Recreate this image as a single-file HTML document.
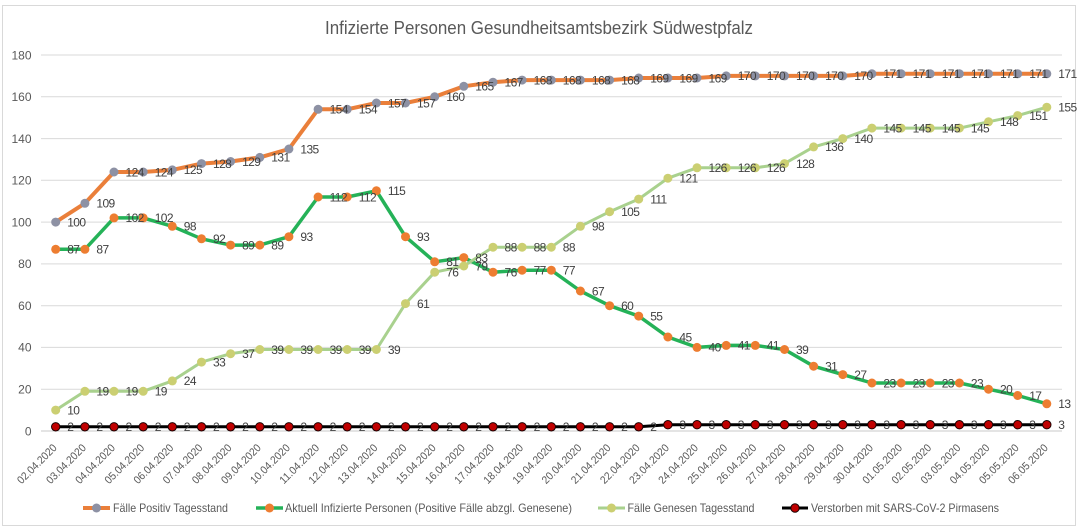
<!DOCTYPE html>
<html><head><meta charset="utf-8"><style>
html,body{margin:0;padding:0;background:#fff;}
svg{display:block;}
.ax{font-family:"Liberation Sans",sans-serif;font-size:12px;fill:#595959;}
.dl{font-family:"Liberation Sans",sans-serif;font-size:12px;fill:#404040;letter-spacing:-0.6px;}
.xl{font-family:"Liberation Sans",sans-serif;font-size:11px;fill:#595959;}
.lg{font-family:"Liberation Sans",sans-serif;font-size:12px;fill:#595959;}
</style></head><body>
<svg width="1079" height="528" viewBox="0 0 1079 528" xmlns="http://www.w3.org/2000/svg">
<defs>
<marker id="mg" markerWidth="10" markerHeight="10" refX="5" refY="5" markerUnits="userSpaceOnUse"><circle cx="5" cy="5" r="4.5" fill="#8D91A4"/></marker>
<marker id="mo" markerWidth="10" markerHeight="10" refX="5" refY="5" markerUnits="userSpaceOnUse"><circle cx="5" cy="5" r="4.5" fill="#ED7D31"/></marker>
<marker id="my" markerWidth="10" markerHeight="10" refX="5" refY="5" markerUnits="userSpaceOnUse"><circle cx="5" cy="5" r="4.5" fill="#CBCF72"/></marker>
<marker id="mr" markerWidth="11" markerHeight="11" refX="5.5" refY="5.5" markerUnits="userSpaceOnUse"><circle cx="5.5" cy="5.5" r="4.2" fill="#C00000" stroke="#1a0000" stroke-width="1"/></marker>
</defs>
<rect x="0" y="0" width="1079" height="528" fill="#fff"/>
<rect x="2.5" y="5.5" width="1073" height="520" fill="#fff" stroke="#D9D9D9" stroke-width="1"/>
<text x="539" y="34" text-anchor="middle" textLength="428" lengthAdjust="spacingAndGlyphs" style="font-family:'Liberation Sans',sans-serif;font-size:18px;fill:#595959;">Infizierte Personen Gesundheitsamtsbezirk Südwestpfalz</text>
<!-- grid -->
<g stroke="#D9D9D9" stroke-width="1">
<line x1="41" y1="55" x2="1062" y2="55"/>
<line x1="41" y1="96.8" x2="1062" y2="96.8"/>
<line x1="41" y1="138.6" x2="1062" y2="138.6"/>
<line x1="41" y1="180.3" x2="1062" y2="180.3"/>
<line x1="41" y1="222.1" x2="1062" y2="222.1"/>
<line x1="41" y1="263.9" x2="1062" y2="263.9"/>
<line x1="41" y1="305.7" x2="1062" y2="305.7"/>
<line x1="41" y1="347.4" x2="1062" y2="347.4"/>
<line x1="41" y1="389.2" x2="1062" y2="389.2"/>
<line x1="41" y1="431" x2="1062" y2="431" stroke="#C8C8C8"/>
</g>
<g class="ax" text-anchor="end">
<text x="31.5" y="59.3">180</text>
<text x="31.5" y="101.1">160</text>
<text x="31.5" y="142.9">140</text>
<text x="31.5" y="184.6">120</text>
<text x="31.5" y="226.4">100</text>
<text x="31.5" y="268.2">80</text>
<text x="31.5" y="310">60</text>
<text x="31.5" y="351.7">40</text>
<text x="31.5" y="393.5">20</text>
<text x="31.5" y="435.3">0</text>
</g>
<!-- series -->
<polyline fill="none" stroke="#EA7F3A" stroke-width="4" stroke-linejoin="round" marker-start="url(#mg)" marker-mid="url(#mg)" marker-end="url(#mg)" points="55.7,222.1 84.9,203.3 114.0,172.0 143.2,172.0 172.3,169.9 201.5,163.6 230.6,161.5 259.8,157.4 288.9,149.0 318.1,109.3 347.2,109.3 376.4,103.0 405.5,103.0 434.7,96.8 463.8,86.3 493.0,82.2 522.1,80.1 551.3,80.1 580.4,80.1 609.6,80.1 638.7,78.0 667.9,78.0 697.0,78.0 726.2,75.9 755.3,75.9 784.5,75.9 813.6,75.9 842.8,75.9 871.9,73.8 901.1,73.8 930.2,73.8 959.4,73.8 988.5,73.8 1017.7,73.8 1046.8,73.8"/>
<polyline fill="none" stroke="#25B258" stroke-width="3.5" stroke-linejoin="round" marker-start="url(#mo)" marker-mid="url(#mo)" marker-end="url(#mo)" points="55.7,249.3 84.9,249.3 114.0,217.9 143.2,217.9 172.3,226.3 201.5,238.8 230.6,245.1 259.8,245.1 288.9,236.7 318.1,197.0 347.2,197.0 376.4,190.8 405.5,236.7 434.7,261.8 463.8,257.6 493.0,272.2 522.1,270.2 551.3,270.2 580.4,291.0 609.6,305.7 638.7,316.1 667.9,337.0 697.0,347.4 726.2,345.4 755.3,345.4 784.5,349.5 813.6,366.2 842.8,374.6 871.9,383.0 901.1,383.0 930.2,383.0 959.4,383.0 988.5,389.2 1017.7,395.5 1046.8,403.8"/>
<polyline fill="none" stroke="#A9D18E" stroke-width="3" stroke-linejoin="round" marker-start="url(#my)" marker-mid="url(#my)" marker-end="url(#my)" points="55.7,410.1 84.9,391.3 114.0,391.3 143.2,391.3 172.3,380.9 201.5,362.1 230.6,353.7 259.8,349.5 288.9,349.5 318.1,349.5 347.2,349.5 376.4,349.5 405.5,303.6 434.7,272.2 463.8,266.0 493.0,247.2 522.1,247.2 551.3,247.2 580.4,226.3 609.6,211.7 638.7,199.1 667.9,178.2 697.0,167.8 726.2,167.8 755.3,167.8 784.5,163.6 813.6,146.9 842.8,138.6 871.9,128.1 901.1,128.1 930.2,128.1 959.4,128.1 988.5,121.8 1017.7,115.6 1046.8,107.2"/>
<polyline fill="none" stroke="#000" stroke-width="3" stroke-linejoin="round" marker-start="url(#mr)" marker-mid="url(#mr)" marker-end="url(#mr)" points="55.7,426.8 84.9,426.8 114.0,426.8 143.2,426.8 172.3,426.8 201.5,426.8 230.6,426.8 259.8,426.8 288.9,426.8 318.1,426.8 347.2,426.8 376.4,426.8 405.5,426.8 434.7,426.8 463.8,426.8 493.0,426.8 522.1,426.8 551.3,426.8 580.4,426.8 609.6,426.8 638.7,426.8 667.9,424.7 697.0,424.7 726.2,424.7 755.3,424.7 784.5,424.7 813.6,424.7 842.8,424.7 871.9,424.7 901.1,424.7 930.2,424.7 959.4,424.7 988.5,424.7 1017.7,424.7 1046.8,424.7"/>
<!-- labels positive -->
<g class="dl">
<text x="67.2" y="226.4">100</text><text x="96.4" y="207.6">109</text><text x="125.5" y="176.3">124</text><text x="154.7" y="176.3">124</text><text x="183.8" y="174.2">125</text><text x="213" y="167.9">128</text><text x="242.1" y="165.8">129</text><text x="271.3" y="161.7">131</text><text x="300.4" y="153.3">135</text><text x="329.6" y="113.6">154</text><text x="358.7" y="113.6">154</text><text x="387.9" y="107.3">157</text><text x="417" y="107.3">157</text><text x="446.2" y="101.1">160</text><text x="475.3" y="90.6">165</text><text x="504.5" y="86.5">167</text><text x="533.6" y="84.4">168</text><text x="562.8" y="84.4">168</text><text x="591.9" y="84.4">168</text><text x="621.1" y="84.4">168</text><text x="650.2" y="82.3">169</text><text x="679.4" y="82.3">169</text><text x="708.5" y="82.3">169</text><text x="737.7" y="80.2">170</text><text x="766.8" y="80.2">170</text><text x="796" y="80.2">170</text><text x="825.1" y="80.2">170</text><text x="854.3" y="80.2">170</text><text x="883.4" y="78.1">171</text><text x="912.6" y="78.1">171</text><text x="941.7" y="78.1">171</text><text x="970.9" y="78.1">171</text><text x="1000" y="78.1">171</text><text x="1029.2" y="78.1">171</text><text x="1058.3" y="78.1">171</text>
</g>
<!-- labels aktuell -->
<g class="dl">
<text x="67.2" y="253.6">87</text><text x="96.4" y="253.6">87</text><text x="125.5" y="222.2">102</text><text x="154.7" y="222.2">102</text><text x="183.8" y="230.6">98</text><text x="213" y="243.1">92</text><text x="242.1" y="249.4">89</text><text x="271.3" y="249.4">89</text><text x="300.4" y="241">93</text><text x="329.6" y="201.3">112</text><text x="358.7" y="201.3">112</text><text x="387.9" y="195.1">115</text><text x="417" y="241">93</text><text x="446.2" y="266.1">81</text><text x="475.3" y="261.9">83</text><text x="504.5" y="276.5">76</text><text x="533.6" y="274.5">77</text><text x="562.8" y="274.5">77</text><text x="591.9" y="295.3">67</text><text x="621.1" y="310">60</text><text x="650.2" y="320.4">55</text><text x="679.4" y="341.3">45</text><text x="708.5" y="351.7">40</text><text x="737.7" y="349.7">41</text><text x="766.8" y="349.7">41</text><text x="796" y="353.8">39</text><text x="825.1" y="370.5">31</text><text x="854.3" y="378.9">27</text><text x="883.4" y="387.3">23</text><text x="912.6" y="387.3">23</text><text x="941.7" y="387.3">23</text><text x="970.9" y="387.3">23</text><text x="1000" y="393.5">20</text><text x="1029.2" y="399.8">17</text><text x="1058.3" y="408.1">13</text>
</g>
<!-- labels genesen -->
<g class="dl">
<text x="67.2" y="414.4">10</text><text x="96.4" y="395.6">19</text><text x="125.5" y="395.6">19</text><text x="154.7" y="395.6">19</text><text x="183.8" y="385.2">24</text><text x="213" y="366.4">33</text><text x="242.1" y="358">37</text><text x="271.3" y="353.8">39</text><text x="300.4" y="353.8">39</text><text x="329.6" y="353.8">39</text><text x="358.7" y="353.8">39</text><text x="387.9" y="353.8">39</text><text x="417" y="307.9">61</text><text x="446.2" y="276.5">76</text><text x="475.3" y="270.3">79</text><text x="504.5" y="251.5">88</text><text x="533.6" y="251.5">88</text><text x="562.8" y="251.5">88</text><text x="591.9" y="230.6">98</text><text x="621.1" y="216">105</text><text x="650.2" y="203.4">111</text><text x="679.4" y="182.5">121</text><text x="708.5" y="172.1">126</text><text x="737.7" y="172.1">126</text><text x="766.8" y="172.1">126</text><text x="796" y="167.9">128</text><text x="825.1" y="151.2">136</text><text x="854.3" y="142.9">140</text><text x="883.4" y="132.4">145</text><text x="912.6" y="132.4">145</text><text x="941.7" y="132.4">145</text><text x="970.9" y="132.4">145</text><text x="1000" y="126.1">148</text><text x="1029.2" y="119.9">151</text><text x="1058.3" y="111.5">155</text>
</g>
<!-- labels verstorben -->
<g class="dl">
<text x="67.2" y="431.1">2</text><text x="96.4" y="431.1">2</text><text x="125.5" y="431.1">2</text><text x="154.7" y="431.1">2</text><text x="183.8" y="431.1">2</text><text x="213" y="431.1">2</text><text x="242.1" y="431.1">2</text><text x="271.3" y="431.1">2</text><text x="300.4" y="431.1">2</text><text x="329.6" y="431.1">2</text><text x="358.7" y="431.1">2</text><text x="387.9" y="431.1">2</text><text x="417" y="431.1">2</text><text x="446.2" y="431.1">2</text><text x="475.3" y="431.1">2</text><text x="504.5" y="431.1">2</text><text x="533.6" y="431.1">2</text><text x="562.8" y="431.1">2</text><text x="591.9" y="431.1">2</text><text x="621.1" y="431.1">2</text><text x="650.2" y="431.1">2</text><text x="679.4" y="429">3</text><text x="708.5" y="429">3</text><text x="737.7" y="429">3</text><text x="766.8" y="429">3</text><text x="796" y="429">3</text><text x="825.1" y="429">3</text><text x="854.3" y="429">3</text><text x="883.4" y="429">3</text><text x="912.6" y="429">3</text><text x="941.7" y="429">3</text><text x="970.9" y="429">3</text><text x="1000" y="429">3</text><text x="1029.2" y="429">3</text><text x="1058.3" y="429">3</text>
</g>
<!-- x labels -->
<g class="xl" text-anchor="end">
<text transform="translate(57.5,448.5) rotate(-45)" textLength="51" lengthAdjust="spacingAndGlyphs">02.04.2020</text>
<text transform="translate(86.7,448.5) rotate(-45)" textLength="51" lengthAdjust="spacingAndGlyphs">03.04.2020</text>
<text transform="translate(115.8,448.5) rotate(-45)" textLength="51" lengthAdjust="spacingAndGlyphs">04.04.2020</text>
<text transform="translate(145,448.5) rotate(-45)" textLength="51" lengthAdjust="spacingAndGlyphs">05.04.2020</text>
<text transform="translate(174.1,448.5) rotate(-45)" textLength="51" lengthAdjust="spacingAndGlyphs">06.04.2020</text>
<text transform="translate(203.3,448.5) rotate(-45)" textLength="51" lengthAdjust="spacingAndGlyphs">07.04.2020</text>
<text transform="translate(232.4,448.5) rotate(-45)" textLength="51" lengthAdjust="spacingAndGlyphs">08.04.2020</text>
<text transform="translate(261.6,448.5) rotate(-45)" textLength="51" lengthAdjust="spacingAndGlyphs">09.04.2020</text>
<text transform="translate(290.7,448.5) rotate(-45)" textLength="51" lengthAdjust="spacingAndGlyphs">10.04.2020</text>
<text transform="translate(319.9,448.5) rotate(-45)" textLength="51" lengthAdjust="spacingAndGlyphs">11.04.2020</text>
<text transform="translate(349,448.5) rotate(-45)" textLength="51" lengthAdjust="spacingAndGlyphs">12.04.2020</text>
<text transform="translate(378.2,448.5) rotate(-45)" textLength="51" lengthAdjust="spacingAndGlyphs">13.04.2020</text>
<text transform="translate(407.3,448.5) rotate(-45)" textLength="51" lengthAdjust="spacingAndGlyphs">14.04.2020</text>
<text transform="translate(436.5,448.5) rotate(-45)" textLength="51" lengthAdjust="spacingAndGlyphs">15.04.2020</text>
<text transform="translate(465.6,448.5) rotate(-45)" textLength="51" lengthAdjust="spacingAndGlyphs">16.04.2020</text>
<text transform="translate(494.8,448.5) rotate(-45)" textLength="51" lengthAdjust="spacingAndGlyphs">17.04.2020</text>
<text transform="translate(523.9,448.5) rotate(-45)" textLength="51" lengthAdjust="spacingAndGlyphs">18.04.2020</text>
<text transform="translate(553.1,448.5) rotate(-45)" textLength="51" lengthAdjust="spacingAndGlyphs">19.04.2020</text>
<text transform="translate(582.2,448.5) rotate(-45)" textLength="51" lengthAdjust="spacingAndGlyphs">20.04.2020</text>
<text transform="translate(611.4,448.5) rotate(-45)" textLength="51" lengthAdjust="spacingAndGlyphs">21.04.2020</text>
<text transform="translate(640.5,448.5) rotate(-45)" textLength="51" lengthAdjust="spacingAndGlyphs">22.04.2020</text>
<text transform="translate(669.7,448.5) rotate(-45)" textLength="51" lengthAdjust="spacingAndGlyphs">23.04.2020</text>
<text transform="translate(698.8,448.5) rotate(-45)" textLength="51" lengthAdjust="spacingAndGlyphs">24.04.2020</text>
<text transform="translate(728,448.5) rotate(-45)" textLength="51" lengthAdjust="spacingAndGlyphs">25.04.2020</text>
<text transform="translate(757.1,448.5) rotate(-45)" textLength="51" lengthAdjust="spacingAndGlyphs">26.04.2020</text>
<text transform="translate(786.3,448.5) rotate(-45)" textLength="51" lengthAdjust="spacingAndGlyphs">27.04.2020</text>
<text transform="translate(815.4,448.5) rotate(-45)" textLength="51" lengthAdjust="spacingAndGlyphs">28.04.2020</text>
<text transform="translate(844.6,448.5) rotate(-45)" textLength="51" lengthAdjust="spacingAndGlyphs">29.04.2020</text>
<text transform="translate(873.7,448.5) rotate(-45)" textLength="51" lengthAdjust="spacingAndGlyphs">30.04.2020</text>
<text transform="translate(902.9,448.5) rotate(-45)" textLength="51" lengthAdjust="spacingAndGlyphs">01.05.2020</text>
<text transform="translate(932,448.5) rotate(-45)" textLength="51" lengthAdjust="spacingAndGlyphs">02.05.2020</text>
<text transform="translate(961.2,448.5) rotate(-45)" textLength="51" lengthAdjust="spacingAndGlyphs">03.05.2020</text>
<text transform="translate(990.3,448.5) rotate(-45)" textLength="51" lengthAdjust="spacingAndGlyphs">04.05.2020</text>
<text transform="translate(1019.5,448.5) rotate(-45)" textLength="51" lengthAdjust="spacingAndGlyphs">05.05.2020</text>
<text transform="translate(1048.6,448.5) rotate(-45)" textLength="51" lengthAdjust="spacingAndGlyphs">06.05.2020</text>
</g>
<!-- legend -->
<line x1="83" y1="508" x2="110" y2="508" stroke="#EA7F3A" stroke-width="4"/>
<circle cx="96.5" cy="508" r="4.5" fill="#8D91A4"/>
<text class="lg" x="113" y="512" textLength="115" lengthAdjust="spacingAndGlyphs">Fälle Positiv Tagesstand</text>
<line x1="256" y1="508" x2="283" y2="508" stroke="#25B258" stroke-width="3.5"/>
<circle cx="269.5" cy="508" r="4.5" fill="#ED7D31"/>
<text class="lg" x="285" y="512" textLength="287" lengthAdjust="spacingAndGlyphs">Aktuell Infizierte Personen (Positive Fälle abzgl. Genesene)</text>
<line x1="598" y1="508" x2="625" y2="508" stroke="#A9D18E" stroke-width="3"/>
<circle cx="611.5" cy="508" r="4.5" fill="#CBCF72"/>
<text class="lg" x="627.5" y="512" textLength="127" lengthAdjust="spacingAndGlyphs">Fälle Genesen Tagesstand</text>
<line x1="782" y1="508" x2="808" y2="508" stroke="#000" stroke-width="3"/>
<circle cx="795" cy="508" r="4.2" fill="#C00000" stroke="#1a0000" stroke-width="1"/>
<text class="lg" x="811" y="512" textLength="188" lengthAdjust="spacingAndGlyphs">Verstorben mit SARS-CoV-2 Pirmasens</text>
</svg>
</body></html>
